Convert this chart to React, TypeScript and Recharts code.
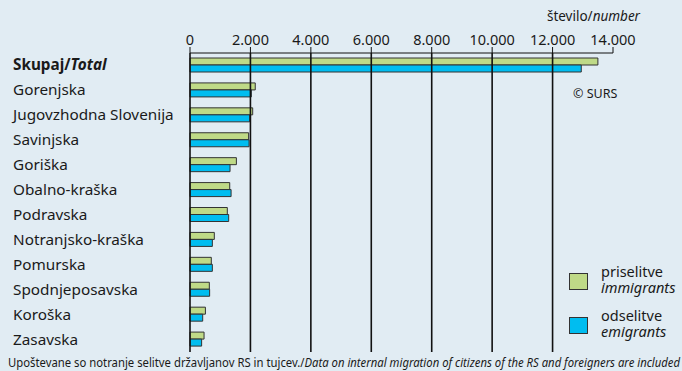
import React from "react";
import { BarChart, Bar, XAxis, YAxis, ReferenceLine } from "recharts";

// regions, top row is the total
const categories = [
  "Skupaj/Total",
  "Gorenjska",
  "Jugovzhodna Slovenija",
  "Savinjska",
  "Goriška",
  "Obalno-kraška",
  "Podravska",
  "Notranjsko-kraška",
  "Pomurska",
  "Spodnjeposavska",
  "Koroška",
  "Zasavska",
];
const immigrants = [13500, 2160, 2075, 1940, 1535, 1315, 1235, 805, 705, 640, 510, 465];
const emigrants = [12950, 2030, 1975, 1955, 1325, 1360, 1280, 740, 740, 650, 420, 385];
const xTicks = [0, 2000, 4000, 6000, 8000, 10000, 12000, 14000];
const gridValues = [2000, 4000, 6000, 8000, 10000, 12000];

const data = categories.map((name, i) => ({
  name,
  priselitve: immigrants[i],
  odselitve: emigrants[i],
}));

const FONT = "'Noto Sans', sans-serif";
const GREEN = "#bfda87";
const BLUE = "#00bdf0";
const BG = "#e1ecf3";

const series = [
  { key: "priselitve", color: GREEN, sl: "priselitve", en: "immigrants" },
  { key: "odselitve", color: BLUE, sl: "odselitve", en: "emigrants" },
];

const fmt = (v: number) => String(v).replace(/\B(?=(\d{3})+(?!\d))/g, ".");

function CatTick(props: any) {
  const { y, payload } = props;
  const [a, b] = String(payload.value).split("/");
  return (
    <text x={13} y={y} dy={5} textAnchor="start" fontFamily={FONT} fontSize={15.3} fill="#1a1a1a">
      {b ? (
        <>
          <tspan fontWeight="bold">{a}/</tspan>
          <tspan fontWeight="bold" fontStyle="italic">{b}</tspan>
        </>
      ) : (
        a
      )}
    </text>
  );
}

export default function App() {
  return (
    <div style={{ position: "absolute", left: 0, top: 0, width: 682, height: 371, background: BG, overflow: "hidden" }}>
      <BarChart
        width={682}
        height={371}
        data={data}
        layout="vertical"
        margin={{ top: 22, right: 69, bottom: 19, left: 0 }}
        barGap={0}
        barSize={7}
      >
        <XAxis
          type="number"
          orientation="top"
          domain={[0, 14000]}
          ticks={xTicks}
          tickFormatter={fmt}
          height={31}
          tickSize={6}
          tickMargin={2}
          stroke="#111"
          tick={{ fill: "#1a1a1a", fontSize: 14.5, fontFamily: FONT }}
          interval={0}
        />
        <YAxis
          type="category"
          dataKey="name"
          width={190}
          tickLine={false}
          axisLine={{ stroke: "#111", strokeWidth: 1.6 }}
          tick={<CatTick />}
          interval={0}
        />
        {gridValues.map((v) => (
          <ReferenceLine key={v} x={v} stroke="#111" strokeWidth={1.6} />
        ))}
        {series.map((s) => (
          <Bar key={s.key} dataKey={s.key} fill={s.color} stroke="#333" strokeWidth={1} isAnimationActive={false} />
        ))}
      </BarChart>
      <svg width={682} height={371} style={{ position: "absolute", left: 0, top: 0, pointerEvents: "none" }}>
        <text x={640} y={21} textAnchor="end" fontFamily={FONT} fontSize={13.5} fill="#1a1a1a">
          število/<tspan fontStyle="italic">number</tspan>
        </text>
        <text x={573} y={98} fontFamily={FONT} fontSize={12.5} fill="#1a1a1a">
          © SURS
        </text>
        {series.map((s, i) => (
          <g key={s.key} transform={`translate(569, ${273 + i * 44})`}>
            <rect x={0.5} y={0.5} width={18} height={16} fill={s.color} stroke="#333" strokeWidth={1} />
            <text x={32} y={4} fontFamily={FONT} fontSize={14.5} fill="#1a1a1a">
              {s.sl}
            </text>
            <text x={32} y={20} fontFamily={FONT} fontSize={14.5} fontStyle="italic" fill="#1a1a1a">
              {s.en}
            </text>
          </g>
        ))}
        <text x={8} y={367} fontFamily={FONT} fontSize={13} fill="#1a1a1a" textLength={672} lengthAdjust="spacingAndGlyphs">
          Upoštevane so notranje selitve državljanov RS in tujcev./
          <tspan fontStyle="italic">Data on internal migration of citizens of the RS and foreigners are included</tspan>
        </text>
      </svg>
    </div>
  );
}
